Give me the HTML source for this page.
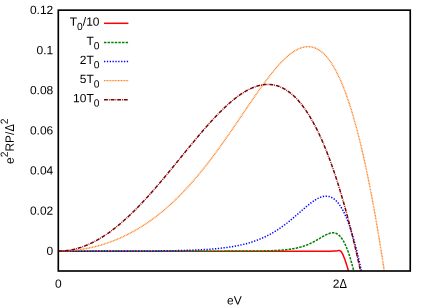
<!DOCTYPE html>
<html><head><meta charset="utf-8">
<style>
html,body{margin:0;padding:0;background:#fff;}
svg{display:block;will-change:transform;}
text{font-family:"Liberation Sans",sans-serif;font-size:12.0px;fill:#000;}
.sub{font-size:10.30px;}
path{fill:none;stroke-linecap:butt;stroke-linejoin:round;}
.r{stroke:#ff0000;stroke-width:1.5;}
.g{stroke:#008000;stroke-width:1.5;stroke-dasharray:2.45 1.15;}
.b{stroke:#0000ff;stroke-width:1.5;stroke-dasharray:1.3 1.55;}
.o{stroke:#ff8020;stroke-width:1.4;stroke-dasharray:0.95 0.6;}
.d{stroke:#800000;stroke-width:1.5;stroke-dasharray:3.9 0.95 0.8 0.95;}
</style></head>
<body>
<svg width="436" height="305" viewBox="0 0 436 305">
<rect x="0" y="0" width="436" height="305" fill="#fff"/>
<path class="r" d="M58.30,251.13 L59.00,251.13 L59.71,251.13 L60.41,251.13 L61.12,251.13 L61.82,251.13 L62.52,251.13 L63.23,251.13 L63.93,251.13 L64.64,251.13 L65.34,251.13 L66.04,251.13 L66.75,251.13 L67.45,251.13 L68.15,251.13 L68.86,251.13 L69.56,251.13 L70.27,251.13 L70.97,251.13 L71.67,251.13 L72.38,251.13 L73.08,251.13 L73.79,251.13 L74.49,251.13 L75.19,251.13 L75.90,251.13 L76.60,251.13 L77.31,251.13 L78.01,251.13 L78.71,251.13 L79.42,251.13 L80.12,251.13 L80.82,251.13 L81.53,251.13 L82.23,251.13 L82.94,251.13 L83.64,251.13 L84.34,251.13 L85.05,251.13 L85.75,251.13 L86.46,251.13 L87.16,251.13 L87.86,251.13 L88.57,251.13 L89.27,251.13 L89.98,251.13 L90.68,251.13 L91.38,251.13 L92.09,251.13 L92.79,251.13 L93.50,251.13 L94.20,251.13 L94.90,251.13 L95.61,251.13 L96.31,251.13 L97.01,251.13 L97.72,251.13 L98.42,251.13 L99.13,251.13 L99.83,251.13 L100.53,251.13 L101.24,251.13 L101.94,251.13 L102.65,251.13 L103.35,251.13 L104.05,251.13 L104.76,251.13 L105.46,251.13 L106.17,251.13 L106.87,251.13 L107.57,251.13 L108.28,251.13 L108.98,251.13 L109.68,251.13 L110.39,251.13 L111.09,251.13 L111.80,251.13 L112.50,251.13 L113.20,251.13 L113.91,251.13 L114.61,251.13 L115.32,251.13 L116.02,251.13 L116.72,251.13 L117.43,251.13 L118.13,251.13 L118.84,251.13 L119.54,251.13 L120.24,251.13 L120.95,251.13 L121.65,251.13 L122.35,251.13 L123.06,251.13 L123.76,251.13 L124.47,251.13 L125.17,251.13 L125.87,251.13 L126.58,251.13 L127.28,251.13 L127.99,251.13 L128.69,251.13 L129.39,251.13 L130.10,251.13 L130.80,251.13 L131.51,251.13 L132.21,251.13 L132.91,251.13 L133.62,251.13 L134.32,251.13 L135.03,251.13 L135.73,251.13 L136.43,251.13 L137.14,251.13 L137.84,251.13 L138.54,251.13 L139.25,251.13 L139.95,251.13 L140.66,251.13 L141.36,251.13 L142.06,251.13 L142.77,251.13 L143.47,251.13 L144.18,251.13 L144.88,251.13 L145.58,251.13 L146.29,251.13 L146.99,251.13 L147.70,251.13 L148.40,251.13 L149.10,251.13 L149.81,251.13 L150.51,251.13 L151.21,251.13 L151.92,251.13 L152.62,251.13 L153.33,251.13 L154.03,251.13 L154.73,251.13 L155.44,251.13 L156.14,251.13 L156.85,251.13 L157.55,251.13 L158.25,251.13 L158.96,251.13 L159.66,251.13 L160.37,251.13 L161.07,251.13 L161.77,251.13 L162.48,251.13 L163.18,251.13 L163.88,251.13 L164.59,251.13 L165.29,251.13 L166.00,251.13 L166.70,251.13 L167.40,251.13 L168.11,251.13 L168.81,251.13 L169.52,251.13 L170.22,251.13 L170.92,251.13 L171.63,251.13 L172.33,251.13 L173.04,251.13 L173.74,251.13 L174.44,251.13 L175.15,251.13 L175.85,251.13 L176.56,251.13 L177.26,251.13 L177.96,251.13 L178.67,251.13 L179.37,251.13 L180.07,251.13 L180.78,251.13 L181.48,251.13 L182.19,251.13 L182.89,251.13 L183.59,251.13 L184.30,251.13 L185.00,251.13 L185.71,251.13 L186.41,251.13 L187.11,251.13 L187.82,251.13 L188.52,251.13 L189.23,251.13 L189.93,251.13 L190.63,251.13 L191.34,251.13 L192.04,251.13 L192.74,251.13 L193.45,251.13 L194.15,251.13 L194.86,251.13 L195.56,251.13 L196.26,251.13 L196.97,251.13 L197.67,251.13 L198.38,251.13 L199.08,251.13 L199.78,251.13 L200.49,251.13 L201.19,251.13 L201.90,251.13 L202.60,251.13 L203.30,251.13 L204.01,251.13 L204.71,251.13 L205.42,251.13 L206.12,251.13 L206.82,251.13 L207.53,251.13 L208.23,251.13 L208.93,251.13 L209.64,251.13 L210.34,251.13 L211.05,251.13 L211.75,251.13 L212.45,251.13 L213.16,251.13 L213.86,251.13 L214.57,251.13 L215.27,251.13 L215.97,251.13 L216.68,251.13 L217.38,251.13 L218.09,251.13 L218.79,251.13 L219.49,251.13 L220.20,251.13 L220.90,251.13 L221.60,251.13 L222.31,251.13 L223.01,251.13 L223.72,251.13 L224.42,251.13 L225.12,251.13 L225.83,251.13 L226.53,251.13 L227.24,251.13 L227.94,251.13 L228.64,251.13 L229.35,251.13 L230.05,251.13 L230.76,251.13 L231.46,251.13 L232.16,251.13 L232.87,251.13 L233.57,251.13 L234.27,251.13 L234.98,251.13 L235.68,251.13 L236.39,251.13 L237.09,251.13 L237.79,251.13 L238.50,251.13 L239.20,251.13 L239.91,251.13 L240.61,251.13 L241.31,251.13 L242.02,251.13 L242.72,251.13 L243.43,251.13 L244.13,251.13 L244.83,251.13 L245.54,251.13 L246.24,251.13 L246.95,251.13 L247.65,251.13 L248.35,251.13 L249.06,251.13 L249.76,251.13 L250.46,251.13 L251.17,251.13 L251.87,251.13 L252.58,251.13 L253.28,251.13 L253.98,251.13 L254.69,251.13 L255.39,251.13 L256.10,251.13 L256.80,251.13 L257.50,251.13 L258.21,251.13 L258.91,251.13 L259.62,251.13 L260.32,251.13 L261.02,251.13 L261.73,251.13 L262.43,251.13 L263.13,251.13 L263.84,251.13 L264.54,251.13 L265.25,251.13 L265.95,251.13 L266.65,251.13 L267.36,251.13 L268.06,251.13 L268.77,251.13 L269.47,251.13 L270.17,251.13 L270.88,251.13 L271.58,251.13 L272.29,251.13 L272.99,251.13 L273.69,251.13 L274.40,251.13 L275.10,251.13 L275.81,251.13 L276.51,251.13 L277.21,251.13 L277.92,251.13 L278.62,251.13 L279.32,251.13 L280.03,251.13 L280.73,251.13 L281.44,251.13 L282.14,251.13 L282.84,251.13 L283.55,251.13 L284.25,251.13 L284.96,251.13 L285.66,251.13 L286.36,251.13 L287.07,251.13 L287.77,251.13 L288.48,251.13 L289.18,251.13 L289.88,251.13 L290.59,251.13 L291.29,251.13 L291.99,251.13 L292.70,251.13 L293.40,251.13 L294.11,251.13 L294.81,251.13 L295.51,251.13 L296.22,251.13 L296.92,251.13 L297.63,251.13 L298.33,251.13 L299.03,251.13 L299.74,251.13 L300.44,251.13 L301.15,251.13 L301.85,251.13 L302.55,251.13 L303.26,251.13 L303.96,251.13 L304.67,251.13 L305.37,251.13 L306.07,251.13 L306.78,251.13 L307.48,251.13 L308.18,251.13 L308.89,251.13 L309.59,251.13 L310.30,251.13 L311.00,251.13 L311.70,251.13 L312.41,251.13 L313.11,251.13 L313.82,251.13 L314.52,251.13 L315.22,251.13 L315.93,251.13 L316.63,251.13 L317.34,251.13 L318.04,251.13 L318.74,251.13 L319.45,251.13 L320.15,251.13 L320.85,251.13 L321.56,251.13 L322.26,251.13 L322.97,251.13 L323.67,251.13 L324.37,251.13 L325.08,251.13 L325.78,251.13 L326.49,251.13 L327.19,251.13 L327.89,251.13 L328.60,251.13 L329.30,251.13 L330.01,251.13 L330.71,251.13 L331.41,251.13 L332.12,251.13 L332.82,251.12 L333.52,251.11 L334.23,251.09 L334.93,251.06 L335.64,251.02 L336.34,250.95 L337.04,250.85 L337.75,250.73 L338.45,250.61 L339.16,250.55 L339.86,250.66 L340.56,251.05 L341.27,251.79 L341.97,252.84 L342.68,254.17 L343.38,255.71 L344.08,257.43 L344.79,259.29 L345.49,261.29 L346.20,263.41 L346.90,265.64 L347.60,267.99 L348.31,270.43 L348.46,271.00"/>
<path class="g" d="M58.30,251.13 L59.00,251.13 L59.71,251.13 L60.41,251.13 L61.12,251.13 L61.82,251.13 L62.52,251.13 L63.23,251.13 L63.93,251.13 L64.64,251.13 L65.34,251.13 L66.04,251.13 L66.75,251.13 L67.45,251.13 L68.15,251.13 L68.86,251.13 L69.56,251.13 L70.27,251.13 L70.97,251.13 L71.67,251.13 L72.38,251.13 L73.08,251.13 L73.79,251.13 L74.49,251.13 L75.19,251.13 L75.90,251.13 L76.60,251.13 L77.31,251.13 L78.01,251.13 L78.71,251.13 L79.42,251.13 L80.12,251.13 L80.82,251.13 L81.53,251.13 L82.23,251.13 L82.94,251.13 L83.64,251.13 L84.34,251.13 L85.05,251.13 L85.75,251.13 L86.46,251.13 L87.16,251.13 L87.86,251.13 L88.57,251.13 L89.27,251.13 L89.98,251.13 L90.68,251.13 L91.38,251.13 L92.09,251.13 L92.79,251.13 L93.50,251.13 L94.20,251.13 L94.90,251.13 L95.61,251.13 L96.31,251.13 L97.01,251.13 L97.72,251.13 L98.42,251.13 L99.13,251.13 L99.83,251.13 L100.53,251.13 L101.24,251.13 L101.94,251.13 L102.65,251.13 L103.35,251.13 L104.05,251.13 L104.76,251.13 L105.46,251.13 L106.17,251.13 L106.87,251.13 L107.57,251.13 L108.28,251.13 L108.98,251.13 L109.68,251.13 L110.39,251.13 L111.09,251.13 L111.80,251.13 L112.50,251.13 L113.20,251.13 L113.91,251.13 L114.61,251.13 L115.32,251.13 L116.02,251.13 L116.72,251.13 L117.43,251.13 L118.13,251.13 L118.84,251.13 L119.54,251.13 L120.24,251.13 L120.95,251.13 L121.65,251.13 L122.35,251.13 L123.06,251.13 L123.76,251.13 L124.47,251.13 L125.17,251.13 L125.87,251.13 L126.58,251.13 L127.28,251.13 L127.99,251.13 L128.69,251.13 L129.39,251.13 L130.10,251.13 L130.80,251.13 L131.51,251.13 L132.21,251.13 L132.91,251.13 L133.62,251.13 L134.32,251.13 L135.03,251.13 L135.73,251.13 L136.43,251.13 L137.14,251.13 L137.84,251.13 L138.54,251.13 L139.25,251.13 L139.95,251.13 L140.66,251.13 L141.36,251.13 L142.06,251.13 L142.77,251.13 L143.47,251.13 L144.18,251.13 L144.88,251.13 L145.58,251.13 L146.29,251.13 L146.99,251.13 L147.70,251.13 L148.40,251.13 L149.10,251.13 L149.81,251.13 L150.51,251.13 L151.21,251.13 L151.92,251.13 L152.62,251.13 L153.33,251.13 L154.03,251.13 L154.73,251.13 L155.44,251.13 L156.14,251.13 L156.85,251.13 L157.55,251.13 L158.25,251.13 L158.96,251.13 L159.66,251.13 L160.37,251.13 L161.07,251.13 L161.77,251.13 L162.48,251.13 L163.18,251.13 L163.88,251.13 L164.59,251.13 L165.29,251.13 L166.00,251.13 L166.70,251.13 L167.40,251.13 L168.11,251.13 L168.81,251.13 L169.52,251.13 L170.22,251.13 L170.92,251.13 L171.63,251.13 L172.33,251.13 L173.04,251.13 L173.74,251.13 L174.44,251.13 L175.15,251.13 L175.85,251.13 L176.56,251.13 L177.26,251.13 L177.96,251.13 L178.67,251.13 L179.37,251.13 L180.07,251.13 L180.78,251.13 L181.48,251.13 L182.19,251.13 L182.89,251.13 L183.59,251.13 L184.30,251.13 L185.00,251.13 L185.71,251.13 L186.41,251.13 L187.11,251.13 L187.82,251.13 L188.52,251.13 L189.23,251.13 L189.93,251.13 L190.63,251.13 L191.34,251.13 L192.04,251.13 L192.74,251.13 L193.45,251.13 L194.15,251.13 L194.86,251.13 L195.56,251.13 L196.26,251.13 L196.97,251.13 L197.67,251.13 L198.38,251.13 L199.08,251.13 L199.78,251.13 L200.49,251.13 L201.19,251.13 L201.90,251.13 L202.60,251.13 L203.30,251.13 L204.01,251.13 L204.71,251.13 L205.42,251.13 L206.12,251.13 L206.82,251.13 L207.53,251.13 L208.23,251.13 L208.93,251.13 L209.64,251.13 L210.34,251.13 L211.05,251.13 L211.75,251.13 L212.45,251.13 L213.16,251.13 L213.86,251.13 L214.57,251.13 L215.27,251.13 L215.97,251.13 L216.68,251.13 L217.38,251.13 L218.09,251.13 L218.79,251.13 L219.49,251.13 L220.20,251.13 L220.90,251.13 L221.60,251.13 L222.31,251.13 L223.01,251.13 L223.72,251.13 L224.42,251.13 L225.12,251.12 L225.83,251.12 L226.53,251.12 L227.24,251.12 L227.94,251.12 L228.64,251.12 L229.35,251.12 L230.05,251.12 L230.76,251.12 L231.46,251.12 L232.16,251.12 L232.87,251.12 L233.57,251.11 L234.27,251.11 L234.98,251.11 L235.68,251.11 L236.39,251.11 L237.09,251.11 L237.79,251.11 L238.50,251.10 L239.20,251.10 L239.91,251.10 L240.61,251.10 L241.31,251.10 L242.02,251.09 L242.72,251.09 L243.43,251.09 L244.13,251.09 L244.83,251.08 L245.54,251.08 L246.24,251.08 L246.95,251.07 L247.65,251.07 L248.35,251.07 L249.06,251.06 L249.76,251.06 L250.46,251.05 L251.17,251.05 L251.87,251.04 L252.58,251.04 L253.28,251.03 L253.98,251.02 L254.69,251.02 L255.39,251.01 L256.10,251.00 L256.80,251.00 L257.50,250.99 L258.21,250.98 L258.91,250.97 L259.62,250.96 L260.32,250.95 L261.02,250.94 L261.73,250.93 L262.43,250.92 L263.13,250.90 L263.84,250.89 L264.54,250.87 L265.25,250.86 L265.95,250.84 L266.65,250.83 L267.36,250.81 L268.06,250.79 L268.77,250.77 L269.47,250.75 L270.17,250.73 L270.88,250.70 L271.58,250.68 L272.29,250.65 L272.99,250.62 L273.69,250.59 L274.40,250.56 L275.10,250.53 L275.81,250.50 L276.51,250.46 L277.21,250.42 L277.92,250.38 L278.62,250.34 L279.32,250.30 L280.03,250.25 L280.73,250.20 L281.44,250.15 L282.14,250.09 L282.84,250.03 L283.55,249.97 L284.25,249.91 L284.96,249.84 L285.66,249.77 L286.36,249.70 L287.07,249.62 L287.77,249.53 L288.48,249.45 L289.18,249.36 L289.88,249.26 L290.59,249.16 L291.29,249.06 L291.99,248.94 L292.70,248.83 L293.40,248.71 L294.11,248.58 L294.81,248.45 L295.51,248.31 L296.22,248.16 L296.92,248.00 L297.63,247.84 L298.33,247.68 L299.03,247.50 L299.74,247.32 L300.44,247.13 L301.15,246.93 L301.85,246.72 L302.55,246.50 L303.26,246.28 L303.96,246.04 L304.67,245.80 L305.37,245.54 L306.07,245.28 L306.78,245.01 L307.48,244.73 L308.18,244.43 L308.89,244.13 L309.59,243.82 L310.30,243.49 L311.00,243.16 L311.70,242.82 L312.41,242.47 L313.11,242.11 L313.82,241.74 L314.52,241.36 L315.22,240.97 L315.93,240.58 L316.63,240.18 L317.34,239.77 L318.04,239.36 L318.74,238.94 L319.45,238.53 L320.15,238.11 L320.85,237.69 L321.56,237.27 L322.26,236.86 L322.97,236.45 L323.67,236.05 L324.37,235.66 L325.08,235.28 L325.78,234.92 L326.49,234.57 L327.19,234.24 L327.89,233.94 L328.60,233.67 L329.30,233.43 L330.01,233.22 L330.71,233.04 L331.41,232.91 L332.12,232.83 L332.82,232.80 L333.52,232.82 L334.23,232.89 L334.93,233.03 L335.64,233.24 L336.34,233.51 L337.04,233.86 L337.75,234.29 L338.45,234.80 L339.16,235.40 L339.86,236.08 L340.56,236.86 L341.27,237.73 L341.97,238.70 L342.68,239.78 L343.38,240.95 L344.08,242.23 L344.79,243.62 L345.49,245.12 L346.20,246.72 L346.90,248.44 L347.60,250.27 L348.31,252.21 L349.01,254.27 L349.71,256.44 L350.42,258.71 L351.12,261.11 L351.83,263.61 L352.53,266.22 L353.23,268.94 L353.75,271.00"/>
<path class="b" d="M58.30,251.13 L59.00,251.13 L59.71,251.13 L60.41,251.13 L61.12,251.13 L61.82,251.13 L62.52,251.13 L63.23,251.13 L63.93,251.13 L64.64,251.13 L65.34,251.13 L66.04,251.13 L66.75,251.13 L67.45,251.13 L68.15,251.13 L68.86,251.13 L69.56,251.13 L70.27,251.13 L70.97,251.13 L71.67,251.13 L72.38,251.13 L73.08,251.13 L73.79,251.13 L74.49,251.13 L75.19,251.13 L75.90,251.13 L76.60,251.13 L77.31,251.13 L78.01,251.13 L78.71,251.13 L79.42,251.13 L80.12,251.13 L80.82,251.13 L81.53,251.13 L82.23,251.13 L82.94,251.13 L83.64,251.13 L84.34,251.13 L85.05,251.13 L85.75,251.13 L86.46,251.13 L87.16,251.13 L87.86,251.13 L88.57,251.13 L89.27,251.13 L89.98,251.13 L90.68,251.13 L91.38,251.13 L92.09,251.13 L92.79,251.12 L93.50,251.12 L94.20,251.12 L94.90,251.12 L95.61,251.12 L96.31,251.12 L97.01,251.12 L97.72,251.12 L98.42,251.12 L99.13,251.12 L99.83,251.12 L100.53,251.12 L101.24,251.12 L101.94,251.12 L102.65,251.12 L103.35,251.12 L104.05,251.11 L104.76,251.11 L105.46,251.11 L106.17,251.11 L106.87,251.11 L107.57,251.11 L108.28,251.11 L108.98,251.11 L109.68,251.11 L110.39,251.11 L111.09,251.11 L111.80,251.10 L112.50,251.10 L113.20,251.10 L113.91,251.10 L114.61,251.10 L115.32,251.10 L116.02,251.10 L116.72,251.10 L117.43,251.09 L118.13,251.09 L118.84,251.09 L119.54,251.09 L120.24,251.09 L120.95,251.09 L121.65,251.09 L122.35,251.08 L123.06,251.08 L123.76,251.08 L124.47,251.08 L125.17,251.08 L125.87,251.08 L126.58,251.07 L127.28,251.07 L127.99,251.07 L128.69,251.07 L129.39,251.06 L130.10,251.06 L130.80,251.06 L131.51,251.06 L132.21,251.06 L132.91,251.05 L133.62,251.05 L134.32,251.05 L135.03,251.04 L135.73,251.04 L136.43,251.04 L137.14,251.04 L137.84,251.03 L138.54,251.03 L139.25,251.03 L139.95,251.02 L140.66,251.02 L141.36,251.02 L142.06,251.01 L142.77,251.01 L143.47,251.00 L144.18,251.00 L144.88,251.00 L145.58,250.99 L146.29,250.99 L146.99,250.98 L147.70,250.98 L148.40,250.97 L149.10,250.97 L149.81,250.96 L150.51,250.96 L151.21,250.95 L151.92,250.95 L152.62,250.94 L153.33,250.94 L154.03,250.93 L154.73,250.92 L155.44,250.92 L156.14,250.91 L156.85,250.91 L157.55,250.90 L158.25,250.89 L158.96,250.88 L159.66,250.88 L160.37,250.87 L161.07,250.86 L161.77,250.85 L162.48,250.84 L163.18,250.84 L163.88,250.83 L164.59,250.82 L165.29,250.81 L166.00,250.80 L166.70,250.79 L167.40,250.78 L168.11,250.77 L168.81,250.76 L169.52,250.75 L170.22,250.74 L170.92,250.72 L171.63,250.71 L172.33,250.70 L173.04,250.69 L173.74,250.67 L174.44,250.66 L175.15,250.65 L175.85,250.63 L176.56,250.62 L177.26,250.60 L177.96,250.59 L178.67,250.57 L179.37,250.56 L180.07,250.54 L180.78,250.52 L181.48,250.51 L182.19,250.49 L182.89,250.47 L183.59,250.45 L184.30,250.43 L185.00,250.41 L185.71,250.39 L186.41,250.37 L187.11,250.35 L187.82,250.32 L188.52,250.30 L189.23,250.28 L189.93,250.25 L190.63,250.23 L191.34,250.20 L192.04,250.18 L192.74,250.15 L193.45,250.12 L194.15,250.09 L194.86,250.06 L195.56,250.03 L196.26,250.00 L196.97,249.97 L197.67,249.94 L198.38,249.90 L199.08,249.87 L199.78,249.83 L200.49,249.80 L201.19,249.76 L201.90,249.72 L202.60,249.68 L203.30,249.64 L204.01,249.60 L204.71,249.56 L205.42,249.51 L206.12,249.47 L206.82,249.42 L207.53,249.38 L208.23,249.33 L208.93,249.28 L209.64,249.23 L210.34,249.17 L211.05,249.12 L211.75,249.06 L212.45,249.01 L213.16,248.95 L213.86,248.89 L214.57,248.83 L215.27,248.77 L215.97,248.70 L216.68,248.63 L217.38,248.57 L218.09,248.50 L218.79,248.42 L219.49,248.35 L220.20,248.28 L220.90,248.20 L221.60,248.12 L222.31,248.04 L223.01,247.95 L223.72,247.87 L224.42,247.78 L225.12,247.69 L225.83,247.60 L226.53,247.50 L227.24,247.41 L227.94,247.31 L228.64,247.21 L229.35,247.10 L230.05,246.99 L230.76,246.88 L231.46,246.77 L232.16,246.66 L232.87,246.54 L233.57,246.42 L234.27,246.29 L234.98,246.17 L235.68,246.04 L236.39,245.90 L237.09,245.76 L237.79,245.62 L238.50,245.48 L239.20,245.33 L239.91,245.18 L240.61,245.03 L241.31,244.87 L242.02,244.71 L242.72,244.54 L243.43,244.38 L244.13,244.20 L244.83,244.02 L245.54,243.84 L246.24,243.66 L246.95,243.47 L247.65,243.27 L248.35,243.07 L249.06,242.87 L249.76,242.66 L250.46,242.45 L251.17,242.23 L251.87,242.01 L252.58,241.78 L253.28,241.55 L253.98,241.31 L254.69,241.07 L255.39,240.82 L256.10,240.56 L256.80,240.30 L257.50,240.04 L258.21,239.77 L258.91,239.49 L259.62,239.21 L260.32,238.92 L261.02,238.63 L261.73,238.33 L262.43,238.02 L263.13,237.71 L263.84,237.39 L264.54,237.06 L265.25,236.73 L265.95,236.39 L266.65,236.05 L267.36,235.70 L268.06,235.34 L268.77,234.97 L269.47,234.60 L270.17,234.22 L270.88,233.83 L271.58,233.44 L272.29,233.04 L272.99,232.63 L273.69,232.22 L274.40,231.80 L275.10,231.37 L275.81,230.93 L276.51,230.49 L277.21,230.04 L277.92,229.58 L278.62,229.12 L279.32,228.64 L280.03,228.16 L280.73,227.68 L281.44,227.19 L282.14,226.69 L282.84,226.18 L283.55,225.66 L284.25,225.14 L284.96,224.62 L285.66,224.08 L286.36,223.54 L287.07,223.00 L287.77,222.44 L288.48,221.88 L289.18,221.32 L289.88,220.75 L290.59,220.17 L291.29,219.59 L291.99,219.01 L292.70,218.42 L293.40,217.83 L294.11,217.23 L294.81,216.63 L295.51,216.02 L296.22,215.41 L296.92,214.80 L297.63,214.19 L298.33,213.58 L299.03,212.96 L299.74,212.35 L300.44,211.73 L301.15,211.12 L301.85,210.50 L302.55,209.89 L303.26,209.28 L303.96,208.67 L304.67,208.07 L305.37,207.47 L306.07,206.87 L306.78,206.28 L307.48,205.70 L308.18,205.13 L308.89,204.56 L309.59,204.00 L310.30,203.46 L311.00,202.92 L311.70,202.39 L312.41,201.88 L313.11,201.39 L313.82,200.90 L314.52,200.44 L315.22,199.99 L315.93,199.56 L316.63,199.15 L317.34,198.76 L318.04,198.39 L318.74,198.04 L319.45,197.72 L320.15,197.43 L320.85,197.16 L321.56,196.92 L322.26,196.72 L322.97,196.54 L323.67,196.39 L324.37,196.28 L325.08,196.21 L325.78,196.17 L326.49,196.17 L327.19,196.21 L327.89,196.29 L328.60,196.41 L329.30,196.58 L330.01,196.79 L330.71,197.05 L331.41,197.36 L332.12,197.72 L332.82,198.12 L333.52,198.58 L334.23,199.10 L334.93,199.67 L335.64,200.30 L336.34,200.98 L337.04,201.72 L337.75,202.53 L338.45,203.39 L339.16,204.32 L339.86,205.31 L340.56,206.37 L341.27,207.50 L341.97,208.69 L342.68,209.95 L343.38,211.28 L344.08,212.68 L344.79,214.15 L345.49,215.69 L346.20,217.31 L346.90,219.00 L347.60,220.77 L348.31,222.61 L349.01,224.52 L349.71,226.52 L350.42,228.59 L351.12,230.73 L351.83,232.96 L352.53,235.26 L353.23,237.65 L353.94,240.11 L354.64,242.65 L355.35,245.27 L356.05,247.97 L356.75,250.75 L357.46,253.61 L358.16,256.55 L358.87,259.58 L359.57,262.68 L360.27,265.86 L360.98,269.12 L361.37,271.00"/>
<path class="o" d="M58.30,251.13 L59.00,251.13 L59.71,251.13 L60.41,251.12 L61.12,251.11 L61.82,251.09 L62.52,251.08 L63.23,251.05 L63.93,251.03 L64.64,251.00 L65.34,250.97 L66.04,250.94 L66.75,250.90 L67.45,250.86 L68.15,250.81 L68.86,250.77 L69.56,250.72 L70.27,250.66 L70.97,250.60 L71.67,250.54 L72.38,250.48 L73.08,250.41 L73.79,250.34 L74.49,250.27 L75.19,250.19 L75.90,250.11 L76.60,250.03 L77.31,249.94 L78.01,249.85 L78.71,249.75 L79.42,249.66 L80.12,249.56 L80.82,249.45 L81.53,249.35 L82.23,249.23 L82.94,249.12 L83.64,249.00 L84.34,248.88 L85.05,248.76 L85.75,248.63 L86.46,248.50 L87.16,248.36 L87.86,248.23 L88.57,248.08 L89.27,247.94 L89.98,247.79 L90.68,247.64 L91.38,247.48 L92.09,247.32 L92.79,247.16 L93.50,247.00 L94.20,246.83 L94.90,246.65 L95.61,246.48 L96.31,246.30 L97.01,246.11 L97.72,245.93 L98.42,245.73 L99.13,245.54 L99.83,245.34 L100.53,245.14 L101.24,244.93 L101.94,244.72 L102.65,244.51 L103.35,244.30 L104.05,244.08 L104.76,243.85 L105.46,243.62 L106.17,243.39 L106.87,243.16 L107.57,242.92 L108.28,242.68 L108.98,242.43 L109.68,242.18 L110.39,241.92 L111.09,241.67 L111.80,241.40 L112.50,241.14 L113.20,240.87 L113.91,240.60 L114.61,240.32 L115.32,240.04 L116.02,239.75 L116.72,239.46 L117.43,239.17 L118.13,238.87 L118.84,238.57 L119.54,238.27 L120.24,237.96 L120.95,237.64 L121.65,237.33 L122.35,237.01 L123.06,236.68 L123.76,236.35 L124.47,236.02 L125.17,235.68 L125.87,235.34 L126.58,234.99 L127.28,234.64 L127.99,234.29 L128.69,233.93 L129.39,233.56 L130.10,233.20 L130.80,232.83 L131.51,232.45 L132.21,232.07 L132.91,231.68 L133.62,231.30 L134.32,230.90 L135.03,230.50 L135.73,230.10 L136.43,229.70 L137.14,229.28 L137.84,228.87 L138.54,228.45 L139.25,228.02 L139.95,227.60 L140.66,227.16 L141.36,226.72 L142.06,226.28 L142.77,225.83 L143.47,225.38 L144.18,224.93 L144.88,224.47 L145.58,224.00 L146.29,223.53 L146.99,223.05 L147.70,222.58 L148.40,222.09 L149.10,221.60 L149.81,221.11 L150.51,220.61 L151.21,220.11 L151.92,219.60 L152.62,219.08 L153.33,218.57 L154.03,218.04 L154.73,217.52 L155.44,216.98 L156.14,216.45 L156.85,215.91 L157.55,215.36 L158.25,214.81 L158.96,214.25 L159.66,213.69 L160.37,213.12 L161.07,212.55 L161.77,211.97 L162.48,211.39 L163.18,210.80 L163.88,210.21 L164.59,209.61 L165.29,209.01 L166.00,208.41 L166.70,207.79 L167.40,207.18 L168.11,206.55 L168.81,205.93 L169.52,205.29 L170.22,204.66 L170.92,204.01 L171.63,203.37 L172.33,202.71 L173.04,202.06 L173.74,201.39 L174.44,200.72 L175.15,200.05 L175.85,199.37 L176.56,198.69 L177.26,198.00 L177.96,197.30 L178.67,196.60 L179.37,195.90 L180.07,195.19 L180.78,194.47 L181.48,193.75 L182.19,193.03 L182.89,192.30 L183.59,191.56 L184.30,190.82 L185.00,190.08 L185.71,189.32 L186.41,188.57 L187.11,187.81 L187.82,187.04 L188.52,186.27 L189.23,185.49 L189.93,184.71 L190.63,183.92 L191.34,183.13 L192.04,182.33 L192.74,181.53 L193.45,180.72 L194.15,179.91 L194.86,179.09 L195.56,178.27 L196.26,177.44 L196.97,176.61 L197.67,175.77 L198.38,174.93 L199.08,174.08 L199.78,173.23 L200.49,172.38 L201.19,171.51 L201.90,170.65 L202.60,169.78 L203.30,168.90 L204.01,168.02 L204.71,167.13 L205.42,166.24 L206.12,165.35 L206.82,164.45 L207.53,163.55 L208.23,162.64 L208.93,161.73 L209.64,160.81 L210.34,159.89 L211.05,158.96 L211.75,158.03 L212.45,157.10 L213.16,156.16 L213.86,155.22 L214.57,154.27 L215.27,153.32 L215.97,152.37 L216.68,151.41 L217.38,150.45 L218.09,149.48 L218.79,148.51 L219.49,147.54 L220.20,146.56 L220.90,145.58 L221.60,144.60 L222.31,143.61 L223.01,142.62 L223.72,141.63 L224.42,140.64 L225.12,139.64 L225.83,138.64 L226.53,137.63 L227.24,136.62 L227.94,135.61 L228.64,134.60 L229.35,133.59 L230.05,132.57 L230.76,131.55 L231.46,130.53 L232.16,129.50 L232.87,128.48 L233.57,127.45 L234.27,126.42 L234.98,125.39 L235.68,124.36 L236.39,123.33 L237.09,122.29 L237.79,121.26 L238.50,120.22 L239.20,119.18 L239.91,118.14 L240.61,117.10 L241.31,116.07 L242.02,115.03 L242.72,113.99 L243.43,112.95 L244.13,111.91 L244.83,110.87 L245.54,109.83 L246.24,108.79 L246.95,107.76 L247.65,106.72 L248.35,105.68 L249.06,104.65 L249.76,103.62 L250.46,102.59 L251.17,101.56 L251.87,100.53 L252.58,99.51 L253.28,98.49 L253.98,97.47 L254.69,96.45 L255.39,95.44 L256.10,94.43 L256.80,93.42 L257.50,92.41 L258.21,91.41 L258.91,90.42 L259.62,89.43 L260.32,88.44 L261.02,87.46 L261.73,86.48 L262.43,85.51 L263.13,84.54 L263.84,83.58 L264.54,82.62 L265.25,81.67 L265.95,80.73 L266.65,79.79 L267.36,78.86 L268.06,77.94 L268.77,77.03 L269.47,76.12 L270.17,75.22 L270.88,74.33 L271.58,73.44 L272.29,72.57 L272.99,71.70 L273.69,70.84 L274.40,70.00 L275.10,69.16 L275.81,68.33 L276.51,67.51 L277.21,66.71 L277.92,65.91 L278.62,65.13 L279.32,64.35 L280.03,63.59 L280.73,62.84 L281.44,62.11 L282.14,61.38 L282.84,60.67 L283.55,59.98 L284.25,59.29 L284.96,58.62 L285.66,57.97 L286.36,57.33 L287.07,56.70 L287.77,56.09 L288.48,55.50 L289.18,54.92 L289.88,54.36 L290.59,53.81 L291.29,53.28 L291.99,52.77 L292.70,52.28 L293.40,51.80 L294.11,51.34 L294.81,50.91 L295.51,50.49 L296.22,50.09 L296.92,49.71 L297.63,49.35 L298.33,49.01 L299.03,48.69 L299.74,48.40 L300.44,48.12 L301.15,47.87 L301.85,47.64 L302.55,47.43 L303.26,47.25 L303.96,47.09 L304.67,46.95 L305.37,46.84 L306.07,46.75 L306.78,46.69 L307.48,46.65 L308.18,46.64 L308.89,46.65 L309.59,46.69 L310.30,46.76 L311.00,46.85 L311.70,46.98 L312.41,47.13 L313.11,47.31 L313.82,47.51 L314.52,47.75 L315.22,48.02 L315.93,48.31 L316.63,48.64 L317.34,49.00 L318.04,49.39 L318.74,49.81 L319.45,50.26 L320.15,50.74 L320.85,51.26 L321.56,51.81 L322.26,52.39 L322.97,53.01 L323.67,53.66 L324.37,54.34 L325.08,55.06 L325.78,55.82 L326.49,56.61 L327.19,57.43 L327.89,58.30 L328.60,59.20 L329.30,60.13 L330.01,61.10 L330.71,62.12 L331.41,63.16 L332.12,64.25 L332.82,65.38 L333.52,66.54 L334.23,67.74 L334.93,68.99 L335.64,70.27 L336.34,71.60 L337.04,72.96 L337.75,74.37 L338.45,75.81 L339.16,77.30 L339.86,78.83 L340.56,80.40 L341.27,82.02 L341.97,83.67 L342.68,85.38 L343.38,87.12 L344.08,88.91 L344.79,90.74 L345.49,92.62 L346.20,94.54 L346.90,96.50 L347.60,98.51 L348.31,100.57 L349.01,102.67 L349.71,104.82 L350.42,107.01 L351.12,109.25 L351.83,111.54 L352.53,113.87 L353.23,116.25 L353.94,118.68 L354.64,121.16 L355.35,123.68 L356.05,126.25 L356.75,128.87 L357.46,131.54 L358.16,134.26 L358.87,137.02 L359.57,139.84 L360.27,142.70 L360.98,145.62 L361.68,148.58 L362.38,151.60 L363.09,154.66 L363.79,157.77 L364.50,160.94 L365.20,164.15 L365.90,167.42 L366.61,170.73 L367.31,174.10 L368.02,177.52 L368.72,180.99 L369.42,184.51 L370.13,188.08 L370.83,191.71 L371.54,195.38 L372.24,199.11 L372.94,202.89 L373.65,206.72 L374.35,210.61 L375.06,214.54 L375.76,218.53 L376.46,222.57 L377.17,226.67 L377.87,230.81 L378.57,235.01 L379.28,239.26 L379.98,243.57 L380.69,247.93 L381.39,252.34 L382.09,256.80 L382.80,261.32 L383.50,265.89 L384.21,270.51 L384.28,271.00"/>
<path class="d" d="M58.30,251.13 L59.00,251.13 L59.71,251.12 L60.41,251.10 L61.12,251.08 L61.82,251.04 L62.52,251.00 L63.23,250.95 L63.93,250.90 L64.64,250.84 L65.34,250.77 L66.04,250.69 L66.75,250.60 L67.45,250.51 L68.15,250.41 L68.86,250.31 L69.56,250.19 L70.27,250.07 L70.97,249.94 L71.67,249.81 L72.38,249.66 L73.08,249.51 L73.79,249.36 L74.49,249.19 L75.19,249.02 L75.90,248.84 L76.60,248.65 L77.31,248.46 L78.01,248.26 L78.71,248.05 L79.42,247.83 L80.12,247.61 L80.82,247.38 L81.53,247.15 L82.23,246.90 L82.94,246.65 L83.64,246.39 L84.34,246.13 L85.05,245.85 L85.75,245.57 L86.46,245.29 L87.16,244.99 L87.86,244.69 L88.57,244.39 L89.27,244.07 L89.98,243.75 L90.68,243.42 L91.38,243.09 L92.09,242.75 L92.79,242.40 L93.50,242.04 L94.20,241.68 L94.90,241.31 L95.61,240.93 L96.31,240.55 L97.01,240.16 L97.72,239.77 L98.42,239.36 L99.13,238.95 L99.83,238.54 L100.53,238.12 L101.24,237.69 L101.94,237.25 L102.65,236.81 L103.35,236.36 L104.05,235.91 L104.76,235.44 L105.46,234.98 L106.17,234.50 L106.87,234.02 L107.57,233.54 L108.28,233.04 L108.98,232.54 L109.68,232.04 L110.39,231.53 L111.09,231.01 L111.80,230.49 L112.50,229.96 L113.20,229.42 L113.91,228.88 L114.61,228.33 L115.32,227.78 L116.02,227.22 L116.72,226.65 L117.43,226.08 L118.13,225.51 L118.84,224.92 L119.54,224.34 L120.24,223.74 L120.95,223.14 L121.65,222.54 L122.35,221.93 L123.06,221.31 L123.76,220.69 L124.47,220.06 L125.17,219.43 L125.87,218.80 L126.58,218.15 L127.28,217.51 L127.99,216.85 L128.69,216.19 L129.39,215.53 L130.10,214.86 L130.80,214.19 L131.51,213.51 L132.21,212.83 L132.91,212.14 L133.62,211.45 L134.32,210.76 L135.03,210.05 L135.73,209.35 L136.43,208.64 L137.14,207.92 L137.84,207.20 L138.54,206.48 L139.25,205.75 L139.95,205.02 L140.66,204.28 L141.36,203.54 L142.06,202.80 L142.77,202.05 L143.47,201.29 L144.18,200.54 L144.88,199.78 L145.58,199.01 L146.29,198.24 L146.99,197.47 L147.70,196.70 L148.40,195.92 L149.10,195.14 L149.81,194.35 L150.51,193.56 L151.21,192.77 L151.92,191.97 L152.62,191.17 L153.33,190.37 L154.03,189.57 L154.73,188.76 L155.44,187.95 L156.14,187.13 L156.85,186.32 L157.55,185.50 L158.25,184.67 L158.96,183.85 L159.66,183.02 L160.37,182.19 L161.07,181.36 L161.77,180.53 L162.48,179.69 L163.18,178.85 L163.88,178.01 L164.59,177.17 L165.29,176.33 L166.00,175.48 L166.70,174.63 L167.40,173.78 L168.11,172.93 L168.81,172.08 L169.52,171.23 L170.22,170.37 L170.92,169.52 L171.63,168.66 L172.33,167.80 L173.04,166.94 L173.74,166.08 L174.44,165.22 L175.15,164.35 L175.85,163.49 L176.56,162.63 L177.26,161.76 L177.96,160.90 L178.67,160.04 L179.37,159.17 L180.07,158.31 L180.78,157.44 L181.48,156.57 L182.19,155.71 L182.89,154.84 L183.59,153.98 L184.30,153.12 L185.00,152.25 L185.71,151.39 L186.41,150.53 L187.11,149.66 L187.82,148.80 L188.52,147.94 L189.23,147.09 L189.93,146.23 L190.63,145.37 L191.34,144.52 L192.04,143.66 L192.74,142.81 L193.45,141.96 L194.15,141.11 L194.86,140.26 L195.56,139.42 L196.26,138.58 L196.97,137.73 L197.67,136.90 L198.38,136.06 L199.08,135.23 L199.78,134.40 L200.49,133.57 L201.19,132.74 L201.90,131.92 L202.60,131.10 L203.30,130.28 L204.01,129.47 L204.71,128.66 L205.42,127.85 L206.12,127.05 L206.82,126.25 L207.53,125.45 L208.23,124.66 L208.93,123.87 L209.64,123.09 L210.34,122.31 L211.05,121.53 L211.75,120.76 L212.45,119.99 L213.16,119.23 L213.86,118.48 L214.57,117.72 L215.27,116.98 L215.97,116.23 L216.68,115.50 L217.38,114.77 L218.09,114.04 L218.79,113.32 L219.49,112.60 L220.20,111.90 L220.90,111.19 L221.60,110.50 L222.31,109.80 L223.01,109.12 L223.72,108.44 L224.42,107.77 L225.12,107.11 L225.83,106.45 L226.53,105.80 L227.24,105.15 L227.94,104.52 L228.64,103.89 L229.35,103.27 L230.05,102.65 L230.76,102.05 L231.46,101.45 L232.16,100.86 L232.87,100.27 L233.57,99.70 L234.27,99.13 L234.98,98.58 L235.68,98.03 L236.39,97.49 L237.09,96.96 L237.79,96.43 L238.50,95.92 L239.20,95.42 L239.91,94.92 L240.61,94.44 L241.31,93.96 L242.02,93.50 L242.72,93.04 L243.43,92.60 L244.13,92.16 L244.83,91.74 L245.54,91.32 L246.24,90.92 L246.95,90.53 L247.65,90.14 L248.35,89.77 L249.06,89.41 L249.76,89.07 L250.46,88.73 L251.17,88.40 L251.87,88.09 L252.58,87.79 L253.28,87.50 L253.98,87.22 L254.69,86.96 L255.39,86.70 L256.10,86.46 L256.80,86.24 L257.50,86.02 L258.21,85.82 L258.91,85.63 L259.62,85.46 L260.32,85.30 L261.02,85.15 L261.73,85.01 L262.43,84.89 L263.13,84.79 L263.84,84.70 L264.54,84.62 L265.25,84.55 L265.95,84.51 L266.65,84.47 L267.36,84.45 L268.06,84.45 L268.77,84.46 L269.47,84.49 L270.17,84.53 L270.88,84.59 L271.58,84.66 L272.29,84.75 L272.99,84.85 L273.69,84.98 L274.40,85.11 L275.10,85.27 L275.81,85.44 L276.51,85.63 L277.21,85.83 L277.92,86.06 L278.62,86.29 L279.32,86.55 L280.03,86.83 L280.73,87.12 L281.44,87.43 L282.14,87.76 L282.84,88.10 L283.55,88.47 L284.25,88.85 L284.96,89.25 L285.66,89.67 L286.36,90.11 L287.07,90.57 L287.77,91.04 L288.48,91.54 L289.18,92.06 L289.88,92.59 L290.59,93.15 L291.29,93.72 L291.99,94.32 L292.70,94.93 L293.40,95.57 L294.11,96.23 L294.81,96.90 L295.51,97.60 L296.22,98.32 L296.92,99.06 L297.63,99.82 L298.33,100.60 L299.03,101.41 L299.74,102.23 L300.44,103.08 L301.15,103.95 L301.85,104.84 L302.55,105.76 L303.26,106.69 L303.96,107.65 L304.67,108.63 L305.37,109.64 L306.07,110.67 L306.78,111.72 L307.48,112.79 L308.18,113.89 L308.89,115.01 L309.59,116.16 L310.30,117.33 L311.00,118.52 L311.70,119.74 L312.41,120.98 L313.11,122.24 L313.82,123.53 L314.52,124.85 L315.22,126.19 L315.93,127.55 L316.63,128.94 L317.34,130.36 L318.04,131.80 L318.74,133.27 L319.45,134.76 L320.15,136.28 L320.85,137.82 L321.56,139.39 L322.26,140.99 L322.97,142.61 L323.67,144.26 L324.37,145.94 L325.08,147.64 L325.78,149.37 L326.49,151.13 L327.19,152.91 L327.89,154.73 L328.60,156.57 L329.30,158.43 L330.01,160.33 L330.71,162.25 L331.41,164.20 L332.12,166.18 L332.82,168.19 L333.52,170.22 L334.23,172.29 L334.93,174.38 L335.64,176.50 L336.34,178.65 L337.04,180.83 L337.75,183.04 L338.45,185.28 L339.16,187.55 L339.86,189.85 L340.56,192.17 L341.27,194.53 L341.97,196.92 L342.68,199.34 L343.38,201.78 L344.08,204.26 L344.79,206.77 L345.49,209.31 L346.20,211.88 L346.90,214.48 L347.60,217.11 L348.31,219.77 L349.01,222.46 L349.71,225.19 L350.42,227.95 L351.12,230.73 L351.83,233.55 L352.53,236.40 L353.23,239.29 L353.94,242.20 L354.64,245.15 L355.35,248.13 L356.05,251.14 L356.75,254.18 L357.46,257.26 L358.16,260.37 L358.87,263.51 L359.57,266.69 L360.27,269.90 L360.51,271.00"/>
<text transform="translate(99.50 25.80) matrix(1 .0005 0 1 0 0)" text-anchor="end">T<tspan class="sub" dy="4.3">0</tspan><tspan dy="-4.3">/10</tspan></text>
<path class="r" d="M104.0,23.30 L128.4,23.30"/>
<text transform="translate(99.50 44.91) matrix(1 .0005 0 1 0 0)" text-anchor="end">T<tspan class="sub" dy="4.3">0</tspan></text>
<path class="g" d="M104.0,42.41 L128.4,42.41"/>
<text transform="translate(99.50 64.02) matrix(1 .0005 0 1 0 0)" text-anchor="end">2T<tspan class="sub" dy="4.3">0</tspan></text>
<path class="b" d="M104.0,61.52 L128.4,61.52"/>
<text transform="translate(99.50 83.13) matrix(1 .0005 0 1 0 0)" text-anchor="end">5T<tspan class="sub" dy="4.3">0</tspan></text>
<path class="o" d="M104.0,80.63 L128.4,80.63"/>
<text transform="translate(99.50 102.24) matrix(1 .0005 0 1 0 0)" text-anchor="end">10T<tspan class="sub" dy="4.3">0</tspan></text>
<path class="d" d="M104.0,99.74 L128.4,99.74"/>

<rect x="58.3" y="10.15" width="351.95" height="260.85" fill="none" stroke="#000" stroke-width="1.65"/>
<text transform="translate(53.30 254.88) matrix(1 .0005 0 1 0 0)" text-anchor="end">0</text>
<text transform="translate(53.30 214.75) matrix(1 .0005 0 1 0 0)" text-anchor="end">0.02</text>
<text transform="translate(53.30 174.62) matrix(1 .0005 0 1 0 0)" text-anchor="end">0.04</text>
<text transform="translate(53.30 134.49) matrix(1 .0005 0 1 0 0)" text-anchor="end">0.06</text>
<text transform="translate(53.30 94.36) matrix(1 .0005 0 1 0 0)" text-anchor="end">0.08</text>
<text transform="translate(53.30 54.23) matrix(1 .0005 0 1 0 0)" text-anchor="end">0.1</text>
<text transform="translate(53.30 14.10) matrix(1 .0005 0 1 0 0)" text-anchor="end">0.12</text>

<text transform="translate(58.30 287.75) matrix(1 .0005 0 1 0 0)" text-anchor="middle">0</text>

<text transform="translate(339.45 287.75) matrix(1 .0005 0 1 0 0)" text-anchor="end">2</text>

<text transform="translate(339.60 287.75) matrix(1 .0005 0 1 0 0) scale(.93 1)" text-anchor="start">Δ</text>

<text transform="translate(234.35 304.50) matrix(1 .0005 0 1 0 0)" text-anchor="middle">eV</text>

<text transform="translate(13.80 131.60) rotate(-90) matrix(1 .0005 0 1 0 0)" text-anchor="end">e<tspan class="sub" dy="-6">2</tspan><tspan dy="6">RP/</tspan></text>

<text transform="translate(13.80 131.60) rotate(-90) matrix(1 .0005 0 1 0 0) scale(.93 1)" text-anchor="start">Δ</text>

<text transform="translate(13.80 124.20) rotate(-90) matrix(1 .0005 0 1 0 0)" text-anchor="start"><tspan class="sub" dy="-6">2</tspan></text>

</svg>
</body></html>
